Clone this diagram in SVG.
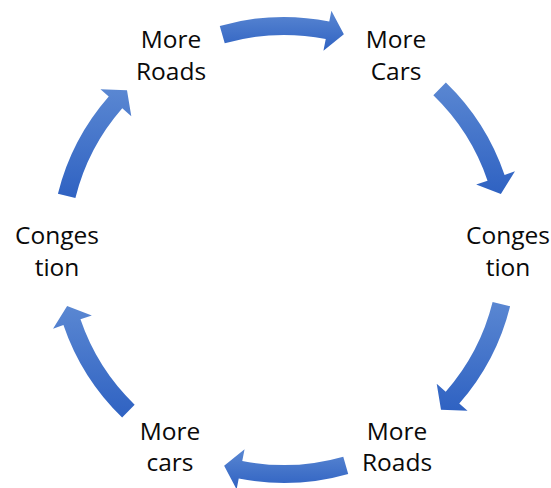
<svg xmlns="http://www.w3.org/2000/svg" width="551" height="488" viewBox="0 0 551 488">
  <defs>
    <linearGradient id="arrowFill" x1="0" y1="0" x2="0" y2="1">
      <stop offset="0" stop-color="#5a87d2"/>
      <stop offset="1" stop-color="#2f62c2"/>
    </linearGradient>
    <style>
      .label { font-family: "Open Sans", "Noto Sans", "Liberation Sans", sans-serif; font-size: 24.5px; fill: #0a0a0a; text-anchor: middle; }
      .arrow { fill: url(#arrowFill); stroke: none; }
    </style>
  </defs>
  <rect width="551" height="488" fill="#ffffff"/>

  <!-- curved block arrows around the cycle, clockwise -->
  <g id="connectors">
    <path class="arrow" d="M219.78,26.03 A233,233 0 0 1 329.26,21.44 L331.39,10.65 L343.86,34.15 L323.43,50.87 L325.76,39.09 A215,215 0 0 0 224.74,43.33 Z"/>
    <path class="arrow" d="M445.86,82.39 A233,233 0 0 1 504.57,174.91 L514.98,171.37 L500.87,193.91 L476.17,184.58 L487.53,180.71 A215,215 0 0 0 433.35,95.34 Z"/>
    <path class="arrow" d="M510.08,306.37 A233,233 0 0 1 459.27,403.53 L467.54,410.77 L441.00,409.77 L436.70,383.76 L445.73,391.67 A215,215 0 0 0 492.61,302.01 Z"/>
    <path class="arrow" d="M348.22,473.97 A233,233 0 0 1 238.74,478.56 L236.61,489.35 L224.14,465.85 L244.57,449.13 L242.24,460.91 A215,215 0 0 0 343.26,456.67 Z"/>
    <path class="arrow" d="M122.14,417.61 A233,233 0 0 1 63.43,325.09 L53.02,328.63 L67.13,306.09 L91.83,315.42 L80.47,319.29 A215,215 0 0 0 134.65,404.66 Z"/>
    <path class="arrow" d="M57.92,193.63 A233,233 0 0 1 108.73,96.47 L100.46,89.23 L127.00,90.23 L131.30,116.24 L122.27,108.33 A215,215 0 0 0 75.39,197.99 Z"/>
  </g>

  <g id="node-more-roads-top">
    <text class="label" x="171" y="48">More</text>
    <text class="label" x="171" y="80">Roads</text>
  </g>
  <g id="node-more-cars-top">
    <text class="label" x="396" y="48">More</text>
    <text class="label" x="396" y="80">Cars</text>
  </g>
  <g id="node-congestion-right">
    <text class="label" x="508" y="243.5">Conges</text>
    <text class="label" x="508" y="275.5">tion</text>
  </g>
  <g id="node-more-roads-bottom">
    <text class="label" x="397" y="439.5">More</text>
    <text class="label" x="397" y="471">Roads</text>
  </g>
  <g id="node-more-cars-bottom">
    <text class="label" x="170" y="439.5">More</text>
    <text class="label" x="170" y="471">cars</text>
  </g>
  <g id="node-congestion-left">
    <text class="label" x="57" y="244">Conges</text>
    <text class="label" x="57" y="276">tion</text>
  </g>
</svg>
